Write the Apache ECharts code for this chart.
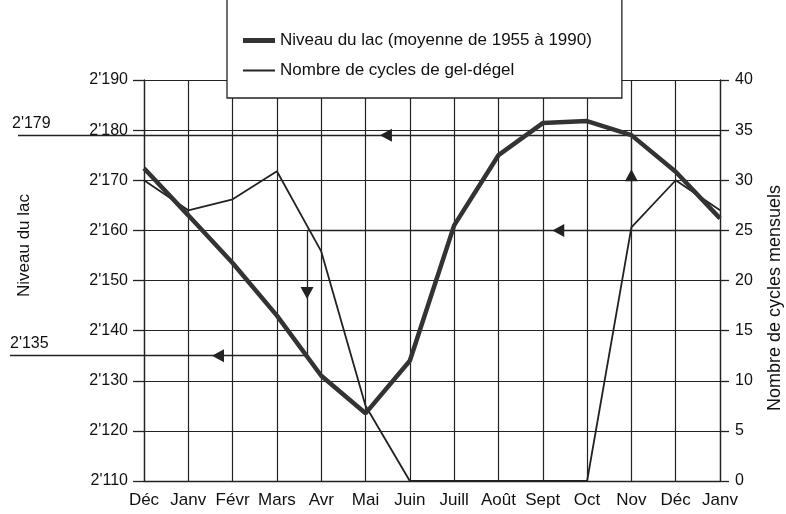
<!DOCTYPE html>
<html>
<head>
<meta charset="utf-8">
<title>Niveau du lac et cycles de gel-dégel</title>
<script src="https://cdn.jsdelivr.net/npm/echarts@6/dist/echarts.min.js"></script>
<style>
  html, body { margin: 0; padding: 0; background: #fff; }
  #chart { width: 786px; height: 514px; }
</style>
</head>
<body>
<div id="chart"></div>
<script>
  // mois sur l'axe x
  const months = ['Déc', 'Janv', 'Févr', 'Mars', 'Avr', 'Mai', 'Juin', 'Juill', 'Août', 'Sept', 'Oct', 'Nov', 'Déc', 'Janv']
  // niveau du lac (moyenne 1955-1990)
  const lakeLevel = [2172.4, 2163, 2153.5, 2143, 2131, 2123.5, 2134, 2161, 2175, 2181.4, 2181.8, 2179, 2171.7, 2162.4]
  // nombre de cycles de gel-dégel par mois
  const freezeCycles = [30, 27, 28.1, 30.9, 22.9, 7.5, 0, 0, 0, 0, 0, 25.3, 30, 27]
  // graduations [min, max, pas]
  const levelTicks = [2110, 2190, 10]
  const cycleTicks = [0, 40, 5]
  // repères de lecture
  const levelHigh = 2179
  const levelLow = 2135
  const cycleMark = 25
  const dropX = 3.68
  const riseX = 11

  const font = 'Liberation Sans, Arial, sans-serif'
  const ink = '#222'

  // 2190 -> 2'190
  function thousands (v) {
    return String(v).replace(/(\d)(\d{3})$/, "$1'$2")
  }
  // cycles -> niveau (les deux axes partagent la même hauteur)
  function cycToLevel (c) {
    return levelTicks[0] + (c - cycleTicks[0]) * (levelTicks[1] - levelTicks[0]) / (cycleTicks[1] - cycleTicks[0])
  }

  const chart = echarts.init(document.getElementById('chart'))
  const lineTrace = { color: ink, width: 1.3, type: 'solid' }
  const arrow = (coord, rot) => ({ coord: coord, symbolRotate: rot })
  const levelName = 'Niveau du lac (moyenne de 1955 à 1990)'
  const cycleName = 'Nombre de cycles de gel-dégel'

  chart.setOption({
    backgroundColor: '#fff',
    animation: false,
    textStyle: { fontFamily: font, color: '#111' },
    grid: { left: 144, right: 66, top: 80, bottom: 33, outerBoundsMode: 'none' },
    legend: {
      orient: 'vertical',
      left: 227,
      top: -2,
      padding: [34, 30, 19, 16],
      itemGap: 13,
      itemWidth: 32,
      itemHeight: 14,
      backgroundColor: '#fff',
      borderColor: ink,
      borderWidth: 1.3,
      borderRadius: 0,
      textStyle: { fontSize: 17, color: '#111', fontFamily: font },
      data: [
        { name: levelName, icon: 'path://M0,0H32V5H0Z' },
        { name: cycleName, icon: 'path://M0,0H32V2H0Z' }
      ]
    },
    xAxis: {
      type: 'value',
      min: 0,
      max: months.length - 1,
      interval: 1,
      axisLine: { lineStyle: { color: ink, width: 1.3 } },
      axisTick: { show: false },
      splitLine: { show: true, lineStyle: { color: ink, width: 1.2 } },
      axisLabel: {
        margin: 11,
        fontSize: 17,
        color: '#111',
        fontFamily: font,
        formatter: v => months[v]
      }
    },
    yAxis: [{
      type: 'value',
      position: 'left',
      min: levelTicks[0],
      max: levelTicks[1],
      interval: levelTicks[2],
      name: 'Niveau du lac',
      nameLocation: 'middle',
      nameRotate: 90,
      nameGap: 111,
      nameTextStyle: { fontSize: 17, color: '#111', fontFamily: font, padding: [0, 0, 0, 70] },
      axisLine: { show: true, lineStyle: { color: ink, width: 1.3 } },
      axisTick: { show: true, length: 11, lineStyle: { color: ink, width: 1.3 } },
      splitLine: { show: true, lineStyle: { color: ink, width: 1.2 } },
      axisLabel: { margin: 16, fontSize: 16, color: '#111', fontFamily: font, formatter: thousands }
    }, {
      type: 'value',
      position: 'right',
      min: cycleTicks[0],
      max: cycleTicks[1],
      interval: cycleTicks[2],
      name: 'Nombre de cycles mensuels',
      nameLocation: 'middle',
      nameRotate: 90,
      nameGap: 46,
      nameTextStyle: { fontSize: 18, color: '#111', fontFamily: font, padding: [0, 35, 0, 0] },
      axisLine: { show: true, lineStyle: { color: ink, width: 1.3 } },
      axisTick: { show: true, length: 9, lineStyle: { color: ink, width: 1.3 } },
      splitLine: { show: false },
      axisLabel: { margin: 15, fontSize: 16, color: '#111', fontFamily: font }
    }],
    series: [{
      name: levelName,
      type: 'line',
      yAxisIndex: 0,
      symbol: 'none',
      clip: false,
      z: 5,
      color: '#333',
      lineStyle: { color: '#333', width: 4.5 },
      data: lakeLevel.map((v, i) => [i, v]),
      markLine: {
        silent: true,
        symbol: ['none', 'none'],
        lineStyle: lineTrace,
        label: { show: false },
        data: [
          [{ x: 18, yAxis: levelHigh, label: { show: true, position: 'insideStartTop', formatter: thousands(levelHigh), fontSize: 16, color: '#111', fontFamily: font, distance: [-6, 4] } },
            { xAxis: months.length - 1, yAxis: levelHigh }],
          [{ xAxis: riseX, yAxis: cycToLevel(cycleMark) }, { xAxis: riseX, yAxis: levelHigh }],
          [{ xAxis: dropX, yAxis: cycToLevel(cycleMark) }, { xAxis: dropX, yAxis: levelLow }],
          [{ x: 10, yAxis: levelLow, label: { show: true, position: 'insideStartTop', formatter: thousands(levelLow), fontSize: 16, color: '#111', fontFamily: font, distance: [0, 4] } },
            { xAxis: dropX, yAxis: levelLow }]
        ]
      },
      markPoint: {
        silent: true,
        symbol: 'triangle',
        symbolSize: [13, 12],
        itemStyle: { color: ink },
        label: { show: false },
        data: [
          arrow([5.46, levelHigh], 90),
          arrow([dropX, 2147.5], 180),
          arrow([1.67, levelLow], 90)
        ]
      }
    }, {
      name: cycleName,
      type: 'line',
      yAxisIndex: 1,
      symbol: 'none',
      clip: false,
      z: 4,
      color: ink,
      lineStyle: { color: ink, width: 1.8 },
      data: freezeCycles.map((v, i) => [i, v]),
      markLine: {
        silent: true,
        symbol: ['none', 'none'],
        lineStyle: lineTrace,
        label: { show: false },
        data: [
          [{ xAxis: months.length - 1, yAxis: cycleMark }, { xAxis: dropX, yAxis: cycleMark }]
        ]
      },
      markPoint: {
        silent: true,
        symbol: 'triangle',
        symbolSize: [13, 12],
        itemStyle: { color: ink },
        label: { show: false },
        data: [
          arrow([9.35, cycleMark], 90),
          arrow([riseX, 30.5], 0)
        ]
      }
    }]
  })
</script>
</body>
</html>
